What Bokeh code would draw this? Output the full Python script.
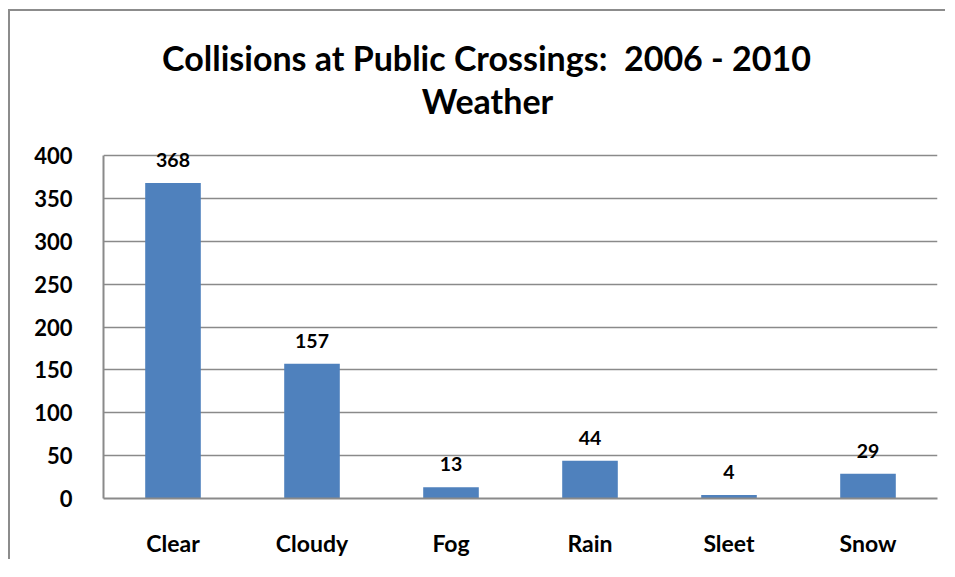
from bokeh.plotting import figure
from bokeh.models import FactorRange, Range1d, FixedTicker, ColumnDataSource, LabelSet, Label
from bokeh.core.properties import value
from bokeh.embed import file_html
from bokeh.resources import INLINE

categories = ["Clear", "Cloudy", "Fog", "Rain", "Sleet", "Snow"]
values = [368, 157, 13, 44, 4, 29]
y_ticks = [0, 50, 100, 150, 200, 250, 300, 350, 400]
title_line1 = "Collisions at Public Crossings: \u00a02006 - 2010"
title_line2 = "Weather"

FONT = "Lato"
GRID = "#8a8a8a"

# layout: the value axis 0..400 occupies 343 px; the frame extends up to the
# top of the canvas so that the title lines and top data label are not clipped
AXIS_PX = 343
TOP_PX = 144
FRAME_H = AXIS_PX + TOP_PX
Y_MAX = 400
y_end = Y_MAX * FRAME_H / AXIS_PX

src = ColumnDataSource(dict(cat=categories, val=values, lab=[str(v) for v in values]))

p = figure(x_range=FactorRange(*categories, range_padding=0),
           y_range=Range1d(0, y_end),
           frame_width=834, frame_height=FRAME_H,
           min_border_left=93, min_border_right=8,
           min_border_top=0, min_border_bottom=60,
           output_backend="svg", toolbar_location=None, tools="")

p.styles = {"border-left": "2px solid #8c8c8c", "border-top": "2px solid #8c8c8c",
            "margin-left": "8px", "margin-top": "9px"}

p.vbar(x="cat", top="val", width=0.4, source=src, fill_color="#4F81BD", line_color=None)

labels = LabelSet(x="cat", y="val", text="lab", source=src, y_offset=23,
                  text_align="center", text_baseline="middle",
                  text_font=value(FONT), text_font_style="bold", text_font_size="19.5px",
                  text_color="#000000")
p.add_layout(labels)

p.outline_line_color = None
p.xgrid.grid_line_color = None
p.ygrid.grid_line_color = GRID
p.ygrid.grid_line_width = 1.5
p.yaxis.ticker = FixedTicker(ticks=y_ticks)
p.yaxis.bounds = (0, Y_MAX)

for ax in (p.xaxis, p.yaxis):
    ax.axis_line_color = GRID
    ax.axis_line_width = 2
    ax.major_tick_line_color = None
    ax.minor_tick_line_color = None
    ax.major_label_text_font = FONT
    ax.major_label_text_font_style = "bold"
    ax.major_label_text_color = "#000000"

p.yaxis.major_label_text_font_size = "22px"
p.xaxis.major_label_text_font_size = "23px"
p.yaxis.major_label_standoff = 25
p.xaxis.major_label_standoff = 24

# title lines, positioned in screen units relative to the plot frame
p.add_layout(Label(x=383, y=441, x_units="screen", y_units="screen", text=title_line1,
                   text_align="center", text_baseline="middle", text_font=FONT,
                   text_font_style="bold", text_font_size="34px", text_color="#000000"))
p.add_layout(Label(x=384, y=398, x_units="screen", y_units="screen", text=title_line2,
                   text_align="center", text_baseline="middle", text_font=FONT,
                   text_font_style="bold", text_font_size="34px", text_color="#000000"))

open("out.html", "w").write(file_html(p, INLINE))
